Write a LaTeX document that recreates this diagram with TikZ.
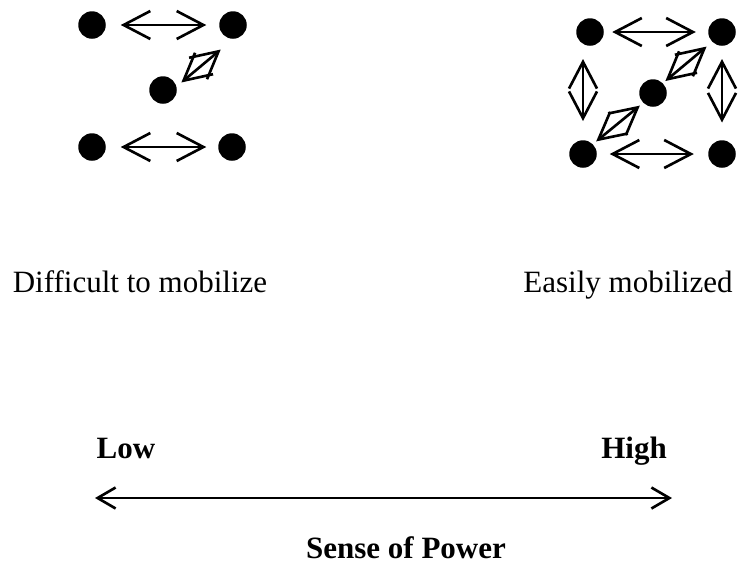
\documentclass[tikz,border=0pt]{standalone}
\usepackage{fontspec}
\setmainfont{Liberation Serif}
\usepackage{tikz}
\usetikzlibrary{calc,arrows.meta}
\tikzstyle{actor}=[shape=circle, fill=black, minimum size=11pt, inner sep=0pt]
\tikzstyle{tie}=[line width=1.05pt, {Straight Barb[length=10.7pt,width=11.2pt]}-{Straight Barb[length=10.7pt,width=11.2pt]}]
\tikzstyle{scl}=[line width=1.05pt, {Straight Barb[length=7.2pt,width=8.4pt]}-{Straight Barb[length=7.2pt,width=8.4pt]}]
\tikzstyle{lbl}=[inner sep=0pt, anchor=base, font=\fontsize{12.4}{15}\selectfont]

\begin{document}
\begin{tikzpicture}[x=0.4pt,y=-0.4pt]
\useasboundingbox (0,0) rectangle (738,561);

\node (l1) [actor] at (92,25) {};
\node (l2) [actor] at (233,25) {};
\node (lc) [actor] at (163,90) {};
\node (l3) [actor] at (92,147) {};
\node (l4) [actor] at (232,147) {};

\draw[tie, shorten <=5.8pt, shorten >=5pt] (l1) -- (l2);
\draw[tie, shorten <=2.4pt, shorten >=6.4pt] (lc.15) -- (l2.south);
\draw[tie, shorten <=5.8pt, shorten >=4.6pt] (l3) -- (l4);

\node (r1) [actor] at (590,32) {};
\node (r2) [actor] at (722,32) {};
\node (rc) [actor] at (653,93) {};
\node (r3) [actor] at (583,154) {};
\node (r4) [actor] at (722,154) {};

\draw[tie, shorten <=3.2pt, shorten >=4.8pt] (r1) -- (r2);
\draw[tie, shorten <=5pt, shorten >=5.6pt] (r3) -- (r4);
\draw[tie, shorten <=5.1pt, shorten >=7.5pt] (r3 |- r1.south) -- (r3.north);
\draw[tie, shorten <=5.1pt, shorten >=6.9pt] (r2) -- (r4);
\draw[tie, shorten <=1.2pt, shorten >=2.8pt] (rc.45) -- (r2.225);
\draw[tie, shorten <=1.6pt, shorten >=1.6pt] (rc.225) -- (r3.45);

\node (hard) [lbl] at (140,292) {Difficult to mobilize};
\node (easy) [lbl] at (628,292) {Easily mobilized};

\node (low) [lbl] at (126,458) {\bfseries Low};
\node (high) [lbl] at (634,458) {\bfseries High};
\coordinate (lowend) at (95,498);
\coordinate (highend) at (672,498);
\draw[scl] (lowend) -- (highend);
\node (power) [lbl] at (406,558) {\bfseries Sense of Power};

\end{tikzpicture}
\end{document}
